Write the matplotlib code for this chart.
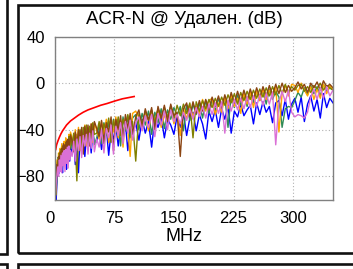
import numpy as np
import matplotlib.pyplot as plt
from matplotlib.patches import Rectangle

plt.rcParams['font.family'] = ['Liberation Sans', 'DejaVu Sans']

# frequency grid (MHz): 1 MHz steps to 20, then 2, 3 and 4 MHz steps
freq = (list(range(1, 21)) + list(range(22, 51, 2)) + list(range(53, 99, 3))
        + list(range(102, 351, 4)))

# ACR-N traces (dB), one per pair
acr_blue = [-98, -100, -84, -70, -78, -64, -75, -60, -68, -77, -58, -66, -55, -62, -74, -52, -60, -50, -67, -54,
            -61, -49, -70, -52, -77, -47, -58, -45, -63, -46, -55, -44, -60, -43, -52,
            -50, -41, -57, -44, -38, -62, -42, -48, -36, -54, -39, -46, -34, -58, -37, -44,
            -34, -49, -31, -43, -33, -55, -30, -38, -29, -47, -31, -36, -44,
            -28, -38, -26, -45, -30, -25, -41, -27, -35, -48, -24, -33, -23,
            -38, -22, -31, -20, -43, -24, -29, -18, -28, -23, -19, -35, -17,
            -27, -16, -25, -20, -34, -17, -15, -28, -14, -31, -18, -13, -25,
            -12, -33, -18, -11, -24, -14, -30, -9, -21, -13, -17]
acr_orange = [-90, -74, -66, -74, -60, -70, -56, -64, -52, -67, -56, -50, -63, -47, -58, -49, -61, -44, -55, -42,
              -47, -55, -40, -52, -38, -58, -43, -49, -36, -54, -40, -47, -35, -51, -34,
              -41, -48, -33, -44, -31, -51, -36, -42, -29, -47, -33, -55, -30, -40, -63, -26,
              -24, -30, -37, -27, -41, -25, -33, -22, -38, -28, -32, -20, -35,
              -26, -45, -22, -31, -18, -29, -20, -26, -14, -24, -15, -13, -27,
              -17, -25, -12, -22, -10, -20, -13, -26, -9, -18, -8, -21, -7,
              -15, -5, -14, -6, -12, -3, -42, -9, -2, -11, -1, -2, -8,
              0, -6, -11, -3, -14, -5, -13, -1, -9, -2, -6]
acr_green = [-80, -90, -76, -64, -72, -62, -75, -58, -67, -56, -70, -55, -64, -52, -61, -51, -66, -49, -58, -47,
             -56, -46, -61, -44, -53, -41, -59, -42, -50, -39, -57, -38, -48, -37, -53,
             -47, -36, -52, -34, -45, -33, -50, -31, -43, -32, -54, -29, -41, -28, -47, -30,
             -27, -40, -26, -36, -24, -44, -25, -34, -22, -39, -23, -31, -21,
             -28, -20, -41, -19, -32, -18, -27, -17, -30, -15, -26, -14, -24,
             -13, -22, -12, -38, -11, -21, -10, -19, -9, -20, -8, -17, -7,
             -15, -6, -18, -5, -14, -7, -12, -38, -22, -20, -21, -15, -8,
             -12, -4, -10, -2, -9, -3, -11, -1, -7, -4, -6]
acr_brown = [-94, -82, -70, -78, -63, -69, -59, -72, -56, -63, -52, -66, -53, -60, -50, -64, -48, -56, -51, -45,
             -49, -59, -42, -53, -40, -50, -38, -61, -37, -48, -36, -54, -35, -46, -33,
             -39, -46, -32, -52, -34, -42, -29, -58, -31, -40, -28, -49, -27, -39, -26, -44,
             -29, -23, -38, -22, -32, -21, -40, -20, -30, -19, -33, -18, -28,
             -25, -63, -22, -17, -29, -16, -26, -15, -24, -14, -23, -12, -20,
             -11, -21, -10, -19, -8, -17, -7, -16, -6, -15, -5, -14, -4,
             -12, -3, -11, -2, -10, -1, -9, 0, -8, -2, -7, -4, 1,
             -5, -1, -8, 0, -4, 1, -6, 2, -3, -1, -4]
acr_olive = [-78, -96, -72, -66, -74, -60, -67, -57, -72, -54, -62, -56, -69, -51, -59, -49, -63, -46, -58, -44,
             -53, -43, -51, -84, -46, -40, -55, -38, -49, -36, -57, -37, -47, -34, -44,
             -43, -33, -47, -35, -41, -30, -51, -32, -40, -29, -45, -31, -38, -27, -42, -33,
             -67, -26, -35, -24, -32, -23, -34, -22, -30, -21, -29, -20, -31,
             -19, -28, -18, -26, -17, -47, -16, -24, -15, -22, -14, -21, -13,
             -20, -12, -19, -10, -17, -9, -18, -8, -15, -7, -14, -6, -13,
             -5, -12, -4, -11, -3, -10, -2, -9, -1, -8, -3, -6, -2,
             -1, -7, -3, -8, -2, -5, 0, -6, -2, -4, -6]
acr_violet = [-97, -86, -78, -72, -80, -66, -76, -62, -77, -60, -71, -58, -76, -57, -69, -55, -73, -54, -66, -58,
              -63, -50, -67, -48, -58, -46, -64, -45, -54, -44, -61, -43, -56, -41, -59,
              -48, -55, -40, -60, -39, -47, -36, -61, -37, -45, -34, -52, -33, -43, -32, -49,
              -34, -29, -41, -28, -38, -27, -46, -26, -36, -24, -40, -23, -33,
              -27, -35, -25, -32, -22, -31, -21, -29, -20, -30, -18, -27, -17,
              -26, -16, -43, -15, -24, -14, -23, -13, -22, -12, -21, -11, -20,
              -10, -19, -9, -18, -8, -53, -17, -7, -16, -6, -25, -29, -27,
              -28, -30, -25, -12, -5, -14, -4, -13, -3, -11, -6]

# limit line
limit_freq = [1.4, 2.5, 4, 6, 8, 10, 12, 15, 20, 25, 30, 36, 42, 50, 58, 66, 75, 85, 100]
limit_db = [-57, -53, -50, -46.5, -43.5, -41, -39, -36, -32.5, -30, -27.5, -25, -23,
            -21, -19, -17.5, -15.5, -13.5, -11.5]

traces = [(acr_blue, '#0000ff'), (acr_green, '#2e8b57'), (acr_orange, '#ffa500'),
          (acr_olive, '#808000'), (acr_brown, '#8b4513'), (acr_violet, '#da70d6')]

W, H = 353, 269
fig = plt.figure(figsize=(W / 100, H / 100), dpi=100)
ax = fig.add_axes([54.6 / W, 1 - 199.5 / H, (333 - 54.6) / W, (199.5 - 36.6) / H])

for vals, col in traces:
    ax.plot(freq, vals, color=col, lw=1.0)
ax.plot(limit_freq, limit_db, color='#ff0000', lw=1.2)

ax.set_xlim(0, 350)
ax.set_ylim(-100, 40)
ax.set_xticks([0, 75, 150, 225, 300])
ax.set_yticks([-80, -40, 0, 40])
ax.grid(True, ls=(0, (1, 2)), color='#b0b0b0', lw=0.8)
ax.tick_params(length=0, labelsize=12, colors='black')
ax.tick_params(axis='x', pad=8.5)
ax.tick_params(axis='y', pad=7)
ax.get_xticklabels()[0].set_ha('right')
for s in ax.spines.values():
    s.set_color('#808080')
    s.set_linewidth(1.0)

fig.text(184.7 / W, 1 - 19.5 / H, 'ACR-N @ Удален. (dB)', ha='center', va='center', fontsize=13.4)
fig.text(184.5 / W, 1 - 236.5 / H, 'MHz', ha='center', va='center', fontsize=13)

# panel frames
def frame(x0, y0, x1, y1):
    fig.add_artist(Rectangle((x0 / W, 1 - y1 / H), (x1 - x0) / W, (y1 - y0) / H,
                             transform=fig.transFigure, fill=False, ec='#111111', lw=1.9))

frame(18, 4.5, 370, 253)
frame(-30, -30, 7, 253.5)
frame(-30, 263.5, 7, 300)
frame(18, 263.5, 370, 300)

plt.savefig('out.png', dpi=100)
